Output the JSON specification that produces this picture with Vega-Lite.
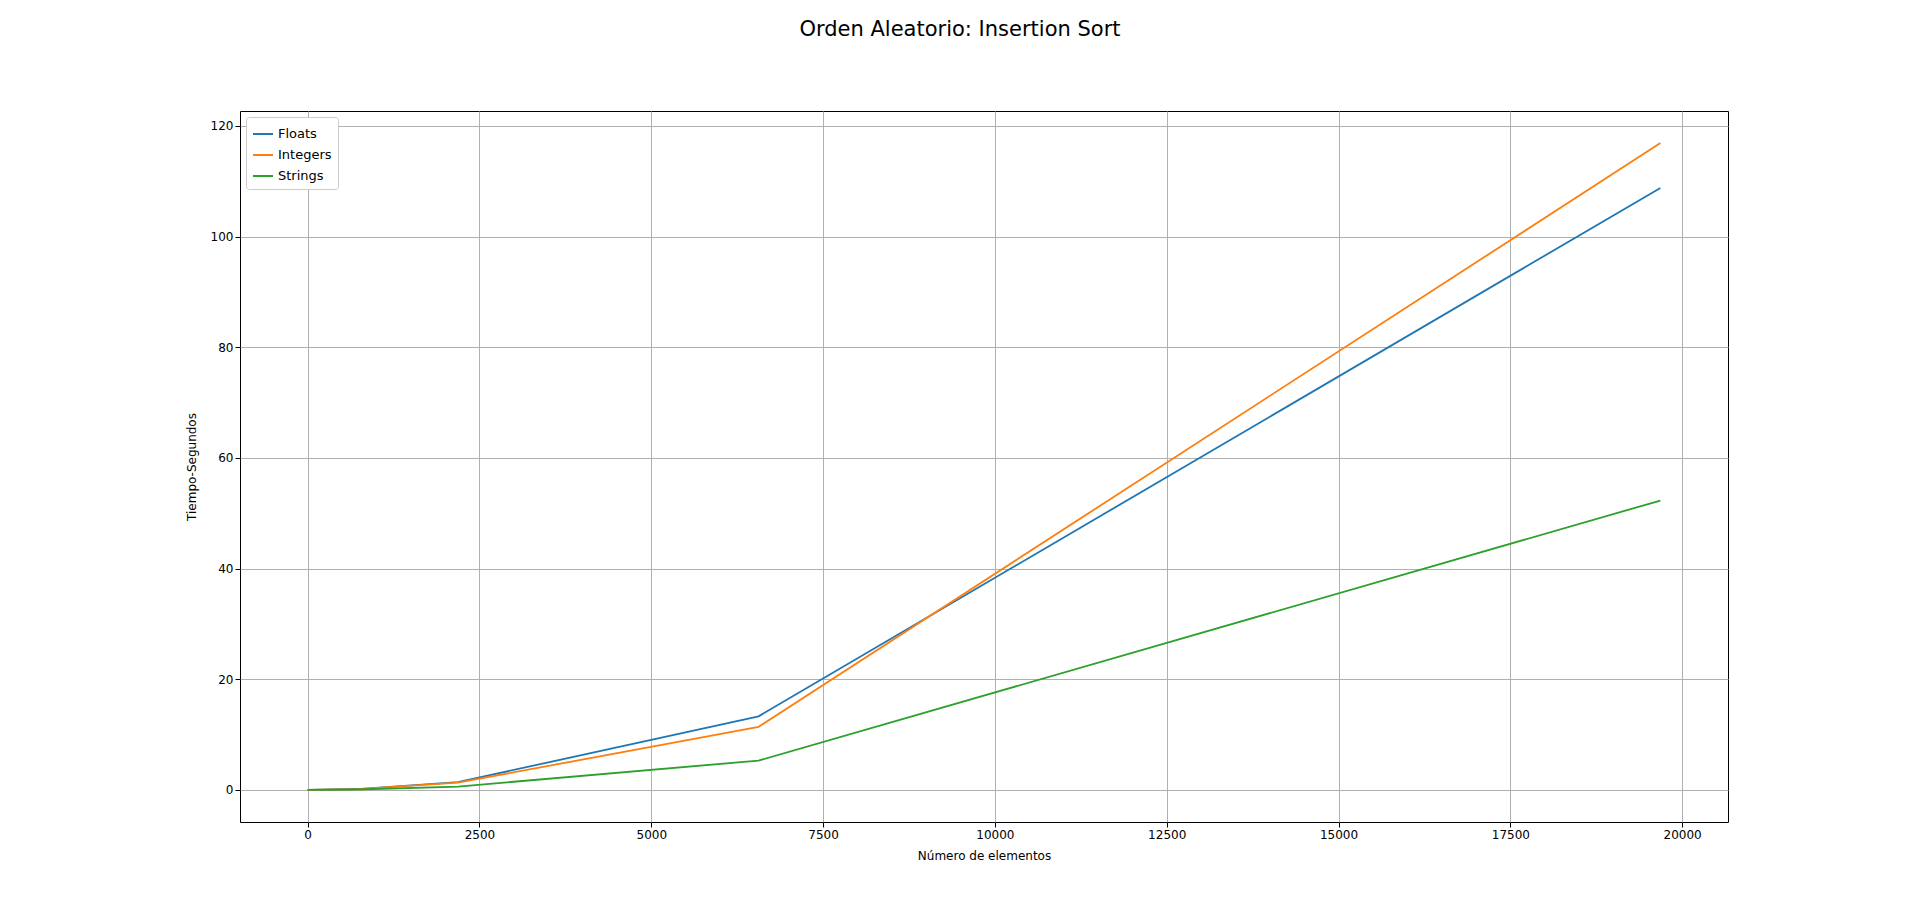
{
"$schema":"https://vega.github.io/schema/vega-lite/v6.json",
"width":1488,"height":711,
"autosize":{"type":"none"},
"padding":{"left":240,"top":111,"right":192,"bottom":102},
"background":"white",
"title":{"text":"Orden Aleatorio: Insertion Sort","fontSize":21,"font":"DejaVu Sans","fontWeight":"normal","anchor":"middle","frame":"group","offset":71,"dx":-24,"color":"black"},
"config":{"view":{"stroke":"black","strokeWidth":1},"font":"DejaVu Sans"},
"data":{"values":[
{"n":0,"t":0,"s":"Floats"},{"n":729,"t":0.16,"s":"Floats"},{"n":2187,"t":1.4,"s":"Floats"},{"n":6561,"t":13.3,"s":"Floats"},{"n":19683,"t":108.8,"s":"Floats"},
{"n":0,"t":0,"s":"Integers"},{"n":729,"t":0.15,"s":"Integers"},{"n":2187,"t":1.3,"s":"Integers"},{"n":6561,"t":11.4,"s":"Integers"},{"n":19683,"t":116.9,"s":"Integers"},
{"n":0,"t":0,"s":"Strings"},{"n":729,"t":0.07,"s":"Strings"},{"n":2187,"t":0.6,"s":"Strings"},{"n":6561,"t":5.3,"s":"Strings"},{"n":19683,"t":52.3,"s":"Strings"}
]},
"mark":{"type":"line","strokeWidth":1.8},
"encoding":{
"x":{"field":"n","type":"quantitative","title":"Número de elementos","scale":{"domain":[-984,20667],"nice":false,"zero":false},
"axis":{"values":[0,2500,5000,7500,10000,12500,15000,17500,20000],"format":"d","labelFontSize":12,"titleFontSize":12,"titleFontWeight":"normal","labelColor":"black","titleColor":"black","gridColor":"#b0b0b0","domain":false,"tickColor":"black","labelFlush":false,"titlePadding":10}},
"y":{"field":"t","type":"quantitative","title":"Tiempo-Segundos","scale":{"domain":[-5.8,122.7],"nice":false,"zero":false},
"axis":{"values":[0,20,40,60,80,100,120],"labelFontSize":12,"titleFontSize":12,"titleFontWeight":"normal","labelColor":"black","titleColor":"black","gridColor":"#b0b0b0","domain":false,"tickColor":"black","titlePadding":12}},
"color":{"field":"s","type":"nominal","scale":{"domain":["Floats","Integers","Strings"],"range":["#1f77b4","#ff7f0e","#2ca02c"]},
"legend":{"title":null,"orient":"top-left","offset":6,"symbolType":"stroke","symbolSize":400,"symbolStrokeWidth":2,"labelFontSize":13,"strokeColor":"#cccccc","fillColor":"white","padding":6,"cornerRadius":3,"rowPadding":3}}
}
}
